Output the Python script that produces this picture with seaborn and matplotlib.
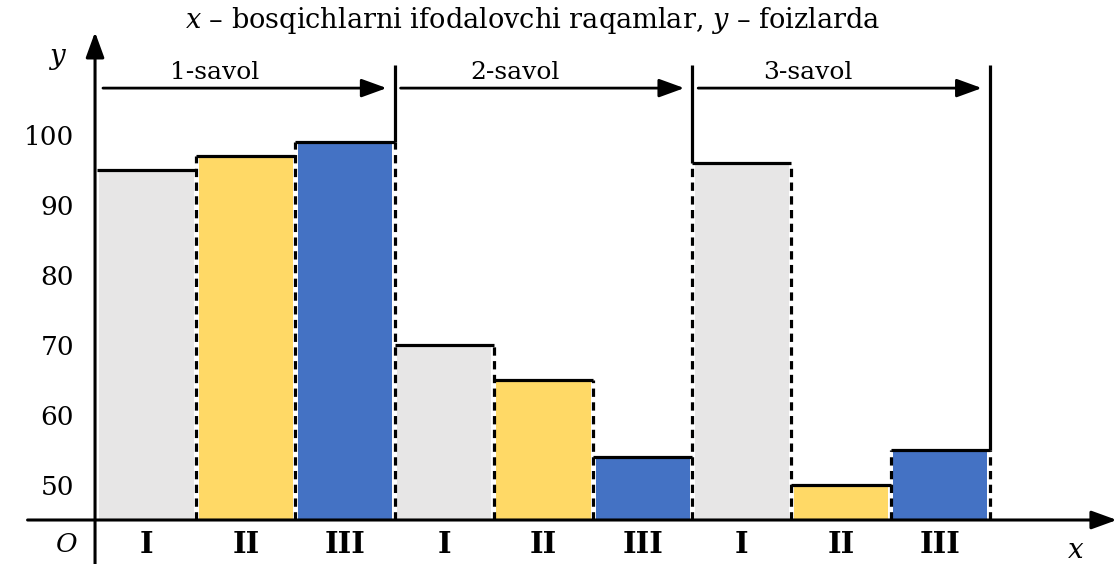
# Bosqichlar bo'yicha foizlar (3 savol)
import numpy as np
import pandas as pd
import seaborn as sns
import matplotlib.pyplot as plt

# Data.
questions = ["1-savol", "2-savol", "3-savol"]
stages = ["I", "II", "III"]
values_q1 = [95, 97, 99]
values_q2 = [70, 65, 54]
values_q3 = [96, 50, 55]
stage_colors = ["#E7E6E6", "#FFD966", "#4472C4"]

values = values_q1 + values_q2 + values_q3
df = pd.DataFrame({
    "pos": [f"{q}-{s}" for q in questions for s in stages],
    "stage": stages * len(questions),
    "value": values,
})

sns.set_style("white")
plt.rcParams["font.family"] = ["DejaVu Serif"]
plt.rcParams["mathtext.fontset"] = "dejavuserif"
plt.rcParams["text.color"] = "black"

fig = plt.figure(figsize=(11.17, 5.64), dpi=100)
# axes bottom sits on the x axis (y = 45)
ax = fig.add_axes([0, 44 / 564, 1, 520 / 564])

sns.barplot(data=df, x="pos", y="value", hue="stage", palette=stage_colors,
            dodge=False, width=0.95, linewidth=0, saturation=1,
            legend=False, ax=ax)

base = 45
ax.set_ylim(base, base + 520 / 7)
ax.set_xlim(-1.478, 9.782)
ax.set_xlabel("")
ax.set_ylabel("")

lw = 2.3
dash = (0, (2.6, 1.7))
n = len(values)
# tops of bars
for i, v in enumerate(values):
    ax.hlines(v, i - 0.5, i + 0.5, colors="black", lw=lw, zorder=4)
# dashed borders between bars, solid separators after each question
for j in range(n):
    right = values[j + 1] if j + 1 < n else values[j]
    top = max(values[j], right)
    ax.vlines(j + 0.5, base, top, colors="black", lw=lw, linestyles=dash,
              zorder=4)
    if (j + 1) % 3 == 0:
        ax.vlines(j + 0.5, values[j] if j + 1 == n else top, 110,
                  colors="black", lw=lw, zorder=4)

head = "-|>,head_length=0.55,head_width=0.2"
# question arrows and labels
for k, q in enumerate(questions):
    start = 3 * k - 0.5
    end = start + 3
    ax.annotate("", xy=(end - 0.08, 106.7), xytext=(start + 0.06, 106.7),
                arrowprops=dict(arrowstyle=head, color="black", lw=2,
                                mutation_scale=28, shrinkA=0, shrinkB=0),
                annotation_clip=False)
ax.text(0.69, 109.0, questions[0], ha="center", va="center", fontsize=18)
ax.text(3.71, 109.0, questions[1], ha="center", va="center", fontsize=18)
ax.text(6.67, 109.0, questions[2], ha="center", va="center", fontsize=18)

# axes with arrows
for s in ax.spines.values():
    s.set_visible(False)
ax.spines["left"].set_position(("data", -0.52))
ax.annotate("", xy=(-0.52, 114.7), xytext=(-0.52, 38.7),
            arrowprops=dict(arrowstyle=head, color="black", lw=2.2,
                            mutation_scale=28, shrinkA=0, shrinkB=0),
            annotation_clip=False)
ax.annotate("", xy=(9.78, base), xytext=(-1.2, base),
            arrowprops=dict(arrowstyle=head, color="black", lw=2.2,
                            mutation_scale=28, shrinkA=0, shrinkB=0),
            annotation_clip=False)

# y ticks
ax.set_yticks(np.arange(50, 101, 10))
ax.set_yticks(np.arange(55, 100, 10), minor=True)
ax.tick_params(axis="y", which="both", direction="inout", length=16,
               width=1.8, labelsize=19, pad=7, colors="black")

# x ticks: marks at bar borders, stage labels at centres
ax.set_xticks(np.arange(n) + 0.5)
ax.set_xticklabels([])
ax.set_xticks(np.arange(n), minor=True)
ax.set_xticklabels(df["stage"], minor=True, fontweight="bold", fontsize=21)
ax.tick_params(axis="x", which="major", direction="inout", length=13,
               width=1.8, colors="black")
ax.tick_params(axis="x", which="minor", length=0, pad=7, colors="black")

ax.text(-0.81, 41.5, "$O$", ha="center", va="center", fontsize=19)
ax.text(9.36, 40.6, "$x$", ha="center", va="center", fontsize=20)
ax.text(-0.90, 110.9, "$y$", ha="center", va="center", fontsize=20)

fig.text(533 / 1117, 1 - 21 / 564,
         "$x$ – bosqichlarni ifodalovchi raqamlar, $y$ – foizlarda",
         ha="center", va="center", fontsize=19.5)

plt.savefig("out.png", dpi=100)
